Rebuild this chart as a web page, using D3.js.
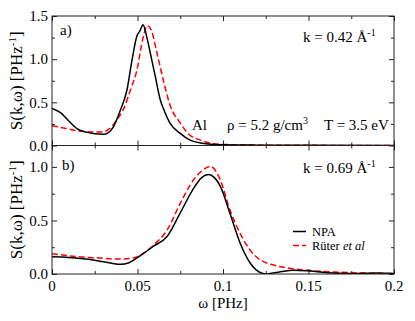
<!DOCTYPE html>
<html>
<head>
<meta charset="utf-8">
<script src="https://cdn.jsdelivr.net/npm/d3@7"></script>
<style>
  body { margin: 0; background: #fff; }
  text { font-family: "Liberation Serif", "Times New Roman", serif; fill: #000; }
</style>
</head>
<body>
<svg id="chart" width="415" height="321"></svg>
<script>
// x axis (frequency, PHz)
const omegaTicks = [0, 0.05, 0.1, 0.15, 0.2];
const omegaTickLabels = ['0', '0.05', '0.1', '0.15', '0.2'];

// panel a) k = 0.42 1/A
const omegaA_npa = [0, 0.005, 0.01, 0.015, 0.02, 0.025, 0.03, 0.033, 0.036, 0.04, 0.0438, 0.0468, 0.0497,
  0.0515, 0.0532, 0.0555, 0.0575, 0.0604, 0.0633, 0.0653, 0.069, 0.075, 0.0805, 0.09, 0.1, 0.12, 0.15, 0.2];
const npaA = [0.43, 0.38, 0.28, 0.19, 0.155, 0.135, 0.13, 0.15, 0.22, 0.41, 0.64, 0.99, 1.27,
  1.33, 1.40, 1.25, 1.07, 0.80, 0.53, 0.42, 0.26, 0.14, 0.065, 0.02, 0.008, 0.004, 0.002, 0.0];
const omegaA_ruter = [0, 0.005, 0.01, 0.015, 0.02, 0.025, 0.03, 0.034, 0.038, 0.042, 0.046, 0.0495, 0.0534,
  0.0556, 0.058, 0.0614, 0.0653, 0.069, 0.075, 0.08, 0.0865, 0.092, 0.1, 0.12, 0.15, 0.2];
const ruterA = [0.23, 0.21, 0.19, 0.17, 0.16, 0.155, 0.16, 0.20, 0.30, 0.43, 0.65, 0.86, 1.26,
  1.39, 1.34, 1.07, 0.74, 0.47, 0.26, 0.13, 0.065, 0.03, 0.012, 0.005, 0.002, 0.0];

// panel b) k = 0.69 1/A
const omegaB_npa = [0, 0.01, 0.02, 0.028, 0.035, 0.04, 0.045, 0.0497, 0.055, 0.0594, 0.0673, 0.075, 0.0828,
  0.0875, 0.0916, 0.095, 0.0984, 0.104, 0.11, 0.116, 0.122, 0.1257, 0.13, 0.1335, 0.141, 0.149, 0.161, 0.175, 0.19, 0.2];
const npaB = [0.16, 0.155, 0.14, 0.12, 0.10, 0.09, 0.105, 0.15, 0.21, 0.26, 0.35, 0.57, 0.80,
  0.90, 0.93, 0.90, 0.82, 0.57, 0.29, 0.10, 0.012, 0.0, 0.012, 0.02, 0.035, 0.03, 0.012, 0.005, 0.01, 0.005];
const omegaB_ruter = [0, 0.01, 0.02, 0.028, 0.035, 0.04, 0.045, 0.0497, 0.055, 0.0594, 0.0673, 0.075, 0.0828,
  0.0875, 0.0926, 0.0984, 0.104, 0.11, 0.116, 0.122, 0.1296, 0.139, 0.149, 0.165, 0.184, 0.2];
const ruterB = [0.19, 0.17, 0.155, 0.15, 0.14, 0.14, 0.145, 0.16, 0.21, 0.27, 0.41, 0.66, 0.88,
  0.96, 1.005, 0.88, 0.60, 0.38, 0.22, 0.13, 0.084, 0.053, 0.035, 0.019, 0.008, 0.005];

const seriesNames = ['NPA', 'Rüter'];

const svg = d3.select('#chart');
const left = 52, right = 394;

const x = d3.scaleLinear().domain([0, 0.2]).range([left, right]);

const panels = [
  { id: 'a', top: 16, bottom: 145.5, ymax: 1.5, major: [0, 0.5, 1, 1.5],
    minor: [0.25, 0.75, 1.25], labels: [0, 0.5, 1, 1.5], showX: false,
    npa: [omegaA_npa, npaA], ruter: [omegaA_ruter, ruterA] },
  { id: 'b', top: 145.5, bottom: 274, ymax: 1.2, major: [0, 0.5, 1],
    minor: [0.25, 0.75], labels: [0, 0.5, 1], showX: true,
    npa: [omegaB_npa, npaB], ruter: [omegaB_ruter, ruterB] }
];

const minorX = [0.025, 0.075, 0.125, 0.175];

panels.forEach(p => {
  const y = d3.scaleLinear().domain([0, p.ymax]).range([p.bottom, p.top]);
  const g = svg.append('g');

  g.append('clipPath').attr('id', 'clip-' + p.id)
    .append('rect').attr('x', left).attr('y', p.top)
    .attr('width', right - left).attr('height', p.bottom - p.top);

  // ticks, pointing inward on all four sides
  const axes = [
    [d3.axisBottom(x).tickValues(omegaTicks).tickSize(-5), `translate(0,${p.bottom})`],
    [d3.axisBottom(x).tickValues(minorX).tickSize(-3), `translate(0,${p.bottom})`],
    [d3.axisTop(x).tickValues(omegaTicks).tickSize(-5), `translate(0,${p.top})`],
    [d3.axisTop(x).tickValues(minorX).tickSize(-3), `translate(0,${p.top})`],
    [d3.axisLeft(y).tickValues(p.major).tickSize(-5), `translate(${left},0)`],
    [d3.axisLeft(y).tickValues(p.minor).tickSize(-3), `translate(${left},0)`],
    [d3.axisRight(y).tickValues(p.major).tickSize(-5), `translate(${right},0)`],
    [d3.axisRight(y).tickValues(p.minor).tickSize(-3), `translate(${right},0)`]
  ];
  axes.forEach(([ax, tr]) => {
    const a = g.append('g').attr('transform', tr).call(ax);
    a.select('.domain').remove();
    a.selectAll('line').attr('stroke', '#222');
    a.selectAll('text').remove();
  });

  // y tick labels
  g.selectAll('.ylab').data(p.labels).enter().append('text')
    .attr('x', left - 4).attr('y', d => y(d))
    .attr('dy', '0.35em').attr('text-anchor', 'end')
    .style('font-size', '15px')
    .text(d => d3.format('.1f')(d));

  if (p.showX) {
    g.selectAll('.xlab').data(omegaTicks).enter().append('text')
      .attr('x', d => x(d)).attr('y', 291)
      .attr('text-anchor', 'middle').style('font-size', '15px')
      .text((d, i) => omegaTickLabels[i]);
  }

  const line = d3.line().curve(d3.curveMonotoneX)
    .x(d => x(d[0])).y(d => y(d[1]));

  const lines = g.append('g').attr('clip-path', `url(#clip-${p.id})`);
  lines.append('path').datum(d3.zip(p.ruter[0], p.ruter[1]))
    .attr('d', line).attr('fill', 'none')
    .attr('stroke', '#ff0000').attr('stroke-width', 1.5)
    .attr('stroke-dasharray', '6,3');
  lines.append('path').datum(d3.zip(p.npa[0], p.npa[1]))
    .attr('d', line).attr('fill', 'none')
    .attr('stroke', '#000').attr('stroke-width', 1.5);

  g.append('rect').attr('x', left).attr('y', p.top)
    .attr('width', right - left).attr('height', p.bottom - p.top)
    .attr('fill', 'none').attr('stroke', '#222').attr('stroke-width', 1);

  // y axis title
  const yt = g.append('text')
    .attr('transform', `translate(22,${(p.top + p.bottom) / 2}) rotate(-90)`)
    .attr('text-anchor', 'middle').style('font-size', '17px');
  yt.append('tspan').text('S(k,ω) [PHz');
  yt.append('tspan').attr('dy', -6).style('font-size', '11px').text('-1');
  yt.append('tspan').attr('dy', 6).text(']');
});

// panel annotations
const kLabel = (xx, yy, val) => {
  const t = svg.append('text').attr('x', xx).attr('y', yy).style('font-size', '15px');
  t.append('tspan').text(`k = ${val} Å`);
  t.append('tspan').attr('dy', -6).style('font-size', '10px').text('-1');
};
kLabel(303, 42, '0.42');
kLabel(303, 173, '0.69');

svg.append('text').attr('x', 60).attr('y', 35).style('font-size', '15px').text('a)');
svg.append('text').attr('x', 62).attr('y', 170).style('font-size', '15px').text('b)');

svg.append('text').attr('x', 192).attr('y', 130).style('font-size', '15px').text('Al');
const rho = svg.append('text').attr('x', 227).attr('y', 130).style('font-size', '15px');
rho.append('tspan').text('ρ = 5.2 g/cm');
rho.append('tspan').attr('dy', -6).style('font-size', '10px').text('3');
svg.append('text').attr('x', 324).attr('y', 130).style('font-size', '15px').text('T = 3.5 eV');

// x axis title
svg.append('text').attr('x', 223).attr('y', 308).attr('text-anchor', 'middle')
  .style('font-size', '15px').text('ω [PHz]');

// legend
const leg = svg.append('g');
leg.append('line').attr('x1', 293).attr('x2', 306).attr('y1', 231.5).attr('y2', 231.5)
  .attr('stroke', '#000').attr('stroke-width', 1.5);
leg.append('text').attr('x', 312).attr('y', 236).style('font-size', '12.5px').text(seriesNames[0]);
leg.append('line').attr('x1', 293).attr('x2', 306).attr('y1', 245.5).attr('y2', 245.5)
  .attr('stroke', '#ff0000').attr('stroke-width', 1.5).attr('stroke-dasharray', '6,3');
const lt = leg.append('text').attr('x', 312).attr('y', 250).style('font-size', '12.5px');
lt.append('tspan').text(seriesNames[1] + ' ');
lt.append('tspan').style('font-style', 'italic').text('et al');
</script>
</body>
</html>
